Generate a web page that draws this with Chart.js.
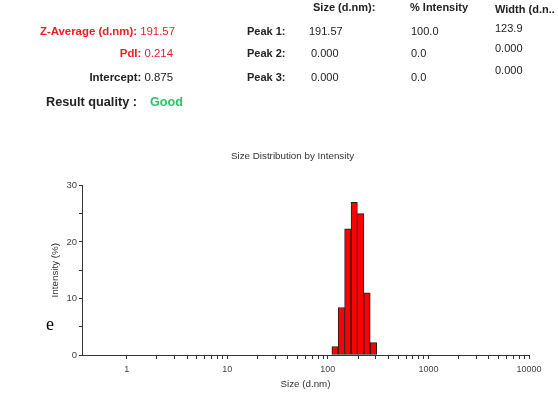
<!DOCTYPE html>
<html>
<head>
<meta charset="utf-8">
<script src="https://cdn.jsdelivr.net/npm/chart.js@4/dist/chart.umd.min.js"></script>
<style>
  html, body { margin: 0; padding: 0; background: #fff; }
  #wrap { position: relative; width: 558px; height: 395px; overflow: hidden; font-family: "Liberation Sans", Arial, sans-serif; }
  #chart { position: absolute; left: 0; top: 0; }
  .t { position: absolute; white-space: nowrap; font-size: 11px; line-height: 12px; color: #222; }
  .r { text-align: right; }
  .b { font-weight: bold; }
  .red { color: #ee1c25; }
</style>
</head>
<body>
<div id="wrap">
  <canvas id="chart" width="558" height="395"></canvas>
</div>
<script>
// ---- Data ----
const sizeClasses = [118, 136.5, 158, 183, 212, 245.5, 284.5];   // d.nm (bin centres)
const intensity   = [1.5, 8.4, 22.3, 27.0, 25.0, 11.0, 2.2];     // %
const xTickValues = [1, 10, 100, 1000, 10000];
const xTickLabels = ['1', '10', '100', '1000', '10000'];
const yTickValues = [0, 10, 20, 30];
const yTickLabels = ['0', '10', '20', '30'];

// Summary table text
const summaryLabels = ['Z-Average (d.nm):', 'PdI:', 'Intercept:'];
const summaryValues = ['191.57', '0.214', '0.875'];
const peakNames     = ['Peak 1:', 'Peak 2:', 'Peak 3:'];
const peakSizes     = ['191.57', '0.000', '0.000'];
const peakIntensity = ['100.0', '0.0', '0.0'];
const peakWidths    = ['123.9', '0.000', '0.000'];
const tableHeaders  = ['Size (d.nm):', '% Intensity', 'Width (d.n..'];
const resultQuality = 'Good';

// ---- Header text (real text) ----
const wrap = document.getElementById('wrap');
function addText(html, cls, style) {
  const d = document.createElement('div');
  d.className = 't ' + cls;
  d.innerHTML = html;
  Object.assign(d.style, style);
  wrap.appendChild(d);
}
const rowTops = [25, 47, 71];
const labelRight = ['383px', '385px', '385px'];
summaryLabels.forEach((lab, i) => {
  addText('<b>' + lab + '</b> ' + summaryValues[i], 'r' + (i < 2 ? ' red' : ''),
          { right: labelRight[i], top: rowTops[i] + 'px', fontSize: '11.4px' });
});
addText('Result quality :', 'b', { left: '46px', top: '95px', fontSize: '12.7px', lineHeight: '14px' });
addText(resultQuality, 'b', { left: '150px', top: '95px', fontSize: '12.7px', lineHeight: '14px', color: '#22c767' });
peakNames.forEach((p, i) => {
  addText(p, 'b', { left: '247px', top: rowTops[i] + 'px' });
  addText(peakSizes[i], '', { left: (i === 0 ? 309 : 311) + 'px', top: rowTops[i] + 'px' });
  addText(peakIntensity[i], '', { left: '411px', top: rowTops[i] + 'px' });
});
const widthTops = [22, 42, 64];
peakWidths.forEach((w, i) => addText(w, '', { left: '495px', top: widthTops[i] + 'px' }));
addText(tableHeaders[0], 'b', { left: '313px', top: '1px' });
addText(tableHeaders[1], 'b', { left: '410px', top: '1px' });
addText(tableHeaders[2], 'b', { left: '495px', top: '3px' });
addText('e', '', { left: '46px', top: '315px', fontFamily: '"Liberation Serif", "DejaVu Serif", serif', fontSize: '18px', lineHeight: '18px', color: '#000' });

// ---- Chart ----
Chart.defaults.font.family = '"Liberation Sans", Arial, sans-serif';
Chart.defaults.color = '#444';

// tick values for the log axis: 1..9 in each decade, plus the last decade
const logTicks = [];
for (let e = 0; e < 4; e++) for (let m = 1; m <= 9; m++) logTicks.push(m * Math.pow(10, e));
logTicks.push(10000);

const axisColor = '#333';

new Chart(document.getElementById('chart'), {
  type: 'bar',
  data: {
    datasets: [{
      data: sizeClasses.map((s, i) => ({ x: s, y: intensity[i] })),
      xAxisID: 'xb',
      yAxisID: 'y',
      backgroundColor: '#ff0000',
      borderColor: '#2a1a1a',
      borderWidth: 1,
      borderSkipped: false,
      barPercentage: 1,
      categoryPercentage: 1
    }]
  },
  options: {
    responsive: false,
    animation: false,
    devicePixelRatio: 1,
    layout: { padding: { top: 150, left: 56, right: 29, bottom: 0 } },
    plugins: {
      legend: { display: false },
      tooltip: { enabled: false },
      title: {
        display: true,
        text: 'Size Distribution by Intensity',
        color: '#333',
        font: { size: 9.8, weight: 'normal' },
        padding: { top: 0, bottom: 23.6 }
      }
    },
    scales: {
      xb: {
        type: 'logarithmic',
        display: false,
        offset: false,
        grid: { offset: false },
        min: 0.36, max: 10000,
        afterBuildTicks: s => { s.ticks = xTickValues.map(v => ({ value: v })); }
      },
      x: {
        type: 'logarithmic',
        position: 'bottom',
        offset: false,
        min: 0.36, max: 10000,
        afterBuildTicks: s => { s.ticks = logTicks.map(v => ({ value: v, major: xTickValues.includes(v) })); },
        afterFit: s => { s.height = 40; },
        border: { display: true, color: axisColor, width: 1 },
        grid: { offset: false, drawOnChartArea: false, drawTicks: true, tickLength: 4, color: axisColor },
        ticks: {
          autoSkip: false, maxRotation: 0, padding: 5,
          font: { size: 9 }, color: '#444',
          callback: v => { const k = xTickValues.indexOf(v); return k >= 0 ? xTickLabels[k] : ''; }
        },
        title: { display: true, text: 'Size (d.nm)', color: '#333', font: { size: 9.8 }, padding: { top: 0, bottom: 4.6 } }
      },
      y: {
        type: 'linear',
        position: 'left',
        min: 0, max: 30,
        afterFit: s => { s.width = 26; },
        border: { display: true, color: axisColor, width: 1 },
        grid: { drawOnChartArea: false, drawTicks: true, tickLength: 3, color: axisColor },
        ticks: {
          stepSize: 5, padding: 2,
          font: { size: 9.5 }, color: '#444',
          callback: v => { const k = yTickValues.indexOf(v); return k >= 0 ? yTickLabels[k] : ''; }
        },
        title: { display: true, text: 'Intensity (%)', color: '#333', font: { size: 9.8 }, padding: { top: -6.4, bottom: 0 } }
      }
    }
  }
});
</script>
</body>
</html>
